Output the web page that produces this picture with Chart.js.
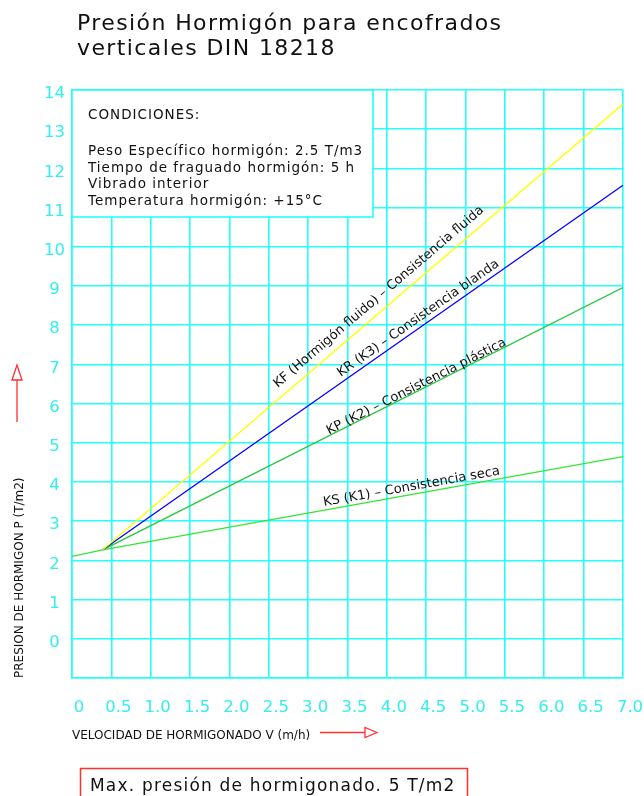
<!DOCTYPE html>
<html>
<head>
<meta charset="utf-8">
<script src="https://cdn.jsdelivr.net/npm/chart.js@4/dist/chart.umd.min.js"></script>
<style>
  body { margin: 0; background: #fff; }
  canvas { display: block; }
</style>
</head>
<body>
<canvas id="grafico" width="644" height="796"></canvas>
<script>
// valores (v en m/h, P en T/m2)
var kfV = [0.39, 7.0];
var kfP = [2.27, 13.64];
var krV = [0.39, 7.0];
var krP = [2.27, 11.57];
var kpV = [0.39, 7.0];
var kpP = [2.27, 8.96];
var ksV = [0, 0.39, 7.0];
var ksP = [2.1, 2.27, 4.65];

var xTicks = [0, 0.5, 1.0, 1.5, 2.0, 2.5, 3.0, 3.5, 4.0, 4.5, 5.0, 5.5, 6.0, 6.5, 7.0];
var xTickLabels = ['0', '0.5', '1.0', '1.5', '2.0', '2.5', '3.0', '3.5', '4.0', '4.5', '5.0', '5.5', '6.0', '6.5', '7.0'];
var yTicks = [-1, 0, 1, 2, 3, 4, 5, 6, 7, 8, 9, 10, 11, 12, 13, 14];
var yTickLabels = ['', '0', '1', '2', '3', '4', '5', '6', '7', '8', '9', '10', '11', '12', '13', '14'];

var curveNames = [
    'KF (Hormigón fluido) – Consistencia fluida',
    'KR (K3) – Consistencia blanda',
    'KP (K2) – Consistencia plástica',
    'KS (K1) – Consistencia seca'
];
var conditions = [
    'Peso Específico hormigón: 2.5 T/m3',
    'Tiempo de fraguado hormigón: 5 h',
    'Vibrado interior',
    'Temperatura hormigón: +15°C'
];

var FONT = 'DejaVu Sans';
var CYAN = '#22ffff';
var CYAN_TXT = '#33eeee';
var RED = '#ff3030';

function pts(vs, ps) {
    return vs.map(function(v, i) { return { x: v, y: ps[i] }; });
}

// centro de cada rotulo (v) y separacion de la linea (px)
var labelAt = [4.0, 4.46, 4.40, 4.33];
var labelOff = [9, 5, 1, 4];

var annotate = {
    id: 'annotate',
    afterDatasetsDraw: function(chart) {
        var ctx = chart.ctx;
        var sx = chart.scales.x, sy = chart.scales.y;
        var area = chart.chartArea;
        ctx.save();

        // titulo
        ctx.fillStyle = '#111';
        ctx.textAlign = 'left';
        ctx.textBaseline = 'alphabetic';
        ctx.font = '22px "' + FONT + '"';
        ctx.letterSpacing = '1.4px';
        ctx.fillText('Presión Hormigón para encofrados', 77, 30);
        ctx.fillText('verticales DIN 18218', 77, 55);

        // cuadro de condiciones
        ctx.letterSpacing = '0px';
        ctx.fillStyle = '#fff';
        ctx.fillRect(area.left, area.top, 301, 127);
        ctx.strokeStyle = CYAN;
        ctx.lineWidth = 1.6;
        ctx.strokeRect(area.left, area.top, 301, 127);
        ctx.fillStyle = '#111';
        ctx.font = '13.5px "' + FONT + '"';
        ctx.letterSpacing = '1px';
        ctx.fillText('CONDICIONES:', 88, 119);
        conditions.forEach(function(t, i) {
            ctx.fillText(t, 88, 155 + i * 16.7);
        });

        // rotulos de las curvas
        ctx.letterSpacing = '0px';
        ctx.font = '13px "' + FONT + '"';
        ctx.textAlign = 'center';
        chart.data.datasets.forEach(function(ds, i) {
            var d = ds.data;
            var a = d[d.length - 2], b = d[d.length - 1];
            var x0 = sx.getPixelForValue(a.x), y0 = sy.getPixelForValue(a.y);
            var x1 = sx.getPixelForValue(b.x), y1 = sy.getPixelForValue(b.y);
            var ang = Math.atan2(y1 - y0, x1 - x0);
            var px = sx.getPixelForValue(labelAt[i]);
            var py = y0 + (px - x0) / (x1 - x0) * (y1 - y0);
            ctx.save();
            ctx.translate(px, py);
            ctx.rotate(ang);
            ctx.fillText(curveNames[i], 0, -labelOff[i]);
            ctx.restore();
        });
        ctx.textAlign = 'left';

        // flechas rojas
        ctx.strokeStyle = RED;
        ctx.lineWidth = 1.3;
        ctx.beginPath();
        ctx.moveTo(17, 422); ctx.lineTo(17, 380);
        ctx.moveTo(17, 365); ctx.lineTo(12, 380); ctx.lineTo(22, 380); ctx.closePath();
        ctx.moveTo(320, 732.5); ctx.lineTo(365, 732.5);
        ctx.moveTo(377, 732.5); ctx.lineTo(365, 727.5); ctx.lineTo(365, 737.5); ctx.closePath();
        ctx.stroke();

        // cuadro inferior
        ctx.lineWidth = 1.5;
        ctx.strokeRect(80.5, 768.5, 387, 40);
        ctx.fillStyle = '#111';
        ctx.font = '17px "' + FONT + '"';
        ctx.letterSpacing = '1.2px';
        ctx.fillText('Max. presión de hormigonado. 5 T/m2', 90, 791);

        ctx.restore();
    }
};

new Chart(document.getElementById('grafico').getContext('2d'), {
    type: 'scatter',
    data: {
        datasets: [
            { label: 'KF', data: pts(kfV, kfP), borderColor: '#ffff00' },
            { label: 'KR', data: pts(krV, krP), borderColor: '#0000ff' },
            { label: 'KP', data: pts(kpV, kpP), borderColor: '#22c83c' },
            { label: 'KS', data: pts(ksV, ksP), borderColor: '#33e633' }
        ].map(function(ds) {
            ds.showLine = true;
            ds.pointRadius = 0;
            ds.borderWidth = 1.3;
            ds.tension = 0;
            return ds;
        })
    },
    options: {
        responsive: false,
        animation: false,
        layout: { padding: { top: 90, right: 21, bottom: 48, left: 0 } },
        plugins: { legend: { display: false }, tooltip: { enabled: false } },
        scales: {
            x: {
                type: 'linear',
                min: 0,
                max: 7,
                afterBuildTicks: function(s) { s.ticks = xTicks.map(function(v) { return { value: v }; }); },
                afterFit: function(s) { s.height = 70; s.paddingLeft = 0; s.paddingRight = 0; },
                ticks: {
                    autoSkip: false,
                    maxRotation: 0,
                    padding: 20,
                    labelOffset: 7,
                    color: CYAN_TXT,
                    font: { family: FONT, size: 16.5 },
                    callback: function(v, i) { return xTickLabels[i]; }
                },
                grid: { color: CYAN, lineWidth: 1.6, drawTicks: false },
                border: { color: CYAN, width: 1.6 },
                title: {
                    display: true,
                    text: 'VELOCIDAD DE HORMIGONADO V (m/h)',
                    align: 'start',
                    color: '#111',
                    font: { family: FONT, size: 12, lineHeight: 1.2 },
                    padding: { top: 0, bottom: 5 }
                }
            },
            y: {
                type: 'linear',
                min: -1,
                max: 14,
                afterBuildTicks: function(s) { s.ticks = yTicks.map(function(v) { return { value: v }; }); },
                afterFit: function(s) { s.width = 72; },
                ticks: {
                    autoSkip: false,
                    padding: 7,
                    crossAlign: 'center',
                    labelOffset: 4,
                    color: CYAN_TXT,
                    font: { family: FONT, size: 16.5 },
                    callback: function(v, i) { return yTickLabels[i]; }
                },
                grid: { color: CYAN, lineWidth: 1.6, drawTicks: false },
                border: { color: CYAN, width: 1.6 },
                title: {
                    display: true,
                    text: 'PRESION DE HORMIGON P (T/m2)',
                    align: 'start',
                    color: '#111',
                    font: { family: FONT, size: 12, lineHeight: 1.2 },
                    padding: { top: 13, bottom: 0 }
                }
            }
        }
    },
    plugins: [annotate]
});
</script>
</body>
</html>
